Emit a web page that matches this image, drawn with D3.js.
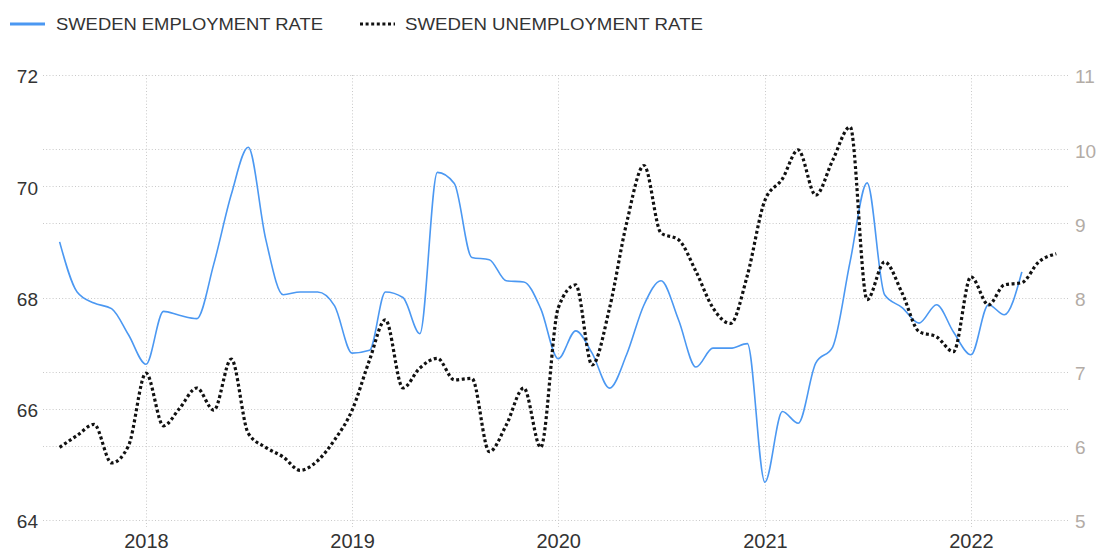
<!DOCTYPE html>
<html><head><meta charset="utf-8">
<script src="https://cdn.jsdelivr.net/npm/d3@7"></script>
<style>body{margin:0;background:#fff;} svg{display:block;font-family:"Liberation Sans",Arial,sans-serif;}</style>
</head><body><svg id="c" width="1106" height="554"></svg>
<script>
// monthly observations, first month = Aug 2017
const firstMonth = [2017, 7];
const employment = [
  69.0, 68.1, 67.9, 67.8, 67.33,
  66.8, 67.75, 67.68, 67.62, 68.6, 69.85, 70.7, 69.05, 68.05, 68.1, 68.1, 67.85,
  67.0, 67.05, 68.1, 68.0, 67.35, 70.25, 70.05, 68.72, 68.68, 68.3, 68.28, 67.8,
  66.9, 67.4, 67.0, 66.37, 66.97, 67.87, 68.3, 67.6, 66.75, 67.09, 67.09, 67.17,
  64.68, 65.95, 65.74, 66.82, 67.11, 68.65, 70.06, 68.05, 67.82, 67.54, 67.87, 67.38,
  66.97, 67.87, 67.69, 68.46
];
const unemployment = [
  5.98, 6.14, 6.29, 5.77, 6.0,
  6.98, 6.27, 6.5, 6.78, 6.48, 7.17, 6.17, 5.98, 5.85, 5.67, 5.8, 6.08,
  6.48, 7.16, 7.7, 6.78, 7.05, 7.18, 6.89, 6.91, 5.92, 6.28, 6.78, 5.98,
  7.86, 8.17, 7.09, 7.86, 9.0, 9.78, 8.87, 8.78, 8.35, 7.86, 7.65, 8.3,
  9.31, 9.6, 9.99, 9.38, 9.85, 10.3, 7.97, 8.48, 8.06, 7.54, 7.47, 7.27,
  8.28, 7.9, 8.17, 8.2, 8.48, 8.59
];
const xTickYears = [2018, 2019, 2020, 2021, 2022];
const leftTicks = [64, 66, 68, 70, 72];
const rightTicks = [5, 6, 7, 8, 9, 10, 11];
const seriesNames = ["SWEDEN EMPLOYMENT RATE", "SWEDEN UNEMPLOYMENT RATE"];

const svg = d3.select("#c");
const plotL = 43, plotR = 1070, plotT = 75, plotB = 520;

const monthDate = i => new Date(Date.UTC(firstMonth[0], firstMonth[1] + i, 1));
const x = d3.scaleUtc()
  .domain([new Date(Date.UTC(2018,0,1)), new Date(Date.UTC(2022,0,1))])
  .range([146, 971]);
const yL = d3.scaleLinear().domain([64, 72]).range([plotB, plotT]);
const yR = d3.scaleLinear().domain([5, 11]).range([plotB, plotT]);

// horizontal grid
const grid = svg.append("g").attr("stroke", "#c9c9c9").attr("stroke-width", 1).attr("stroke-dasharray", "1,2.2");
const gys = new Set([...leftTicks.map(v => Math.round(yL(v)) + 0.5), ...rightTicks.map(v => Math.round(yR(v)) + 0.5)]);
gys.forEach(gy => grid.append("line").attr("x1", plotL).attr("x2", plotR).attr("y1", gy).attr("y2", gy));
// vertical year grid
xTickYears.forEach(yr => {
  const gx = Math.round(x(new Date(Date.UTC(yr,0,1)))) + 0.5;
  grid.append("line").attr("x1", gx).attr("x2", gx).attr("y1", plotT).attr("y2", plotB + 7);
});

// axes labels
const axL = svg.append("g").attr("transform", `translate(38,0)`)
  .call(d3.axisLeft(yL).tickValues(leftTicks).tickFormat(d3.format("d")).tickSize(0).tickPadding(0));
axL.select(".domain").remove();
axL.selectAll("text").attr("font-size", 19).attr("fill", "#333").attr("font-family", "Liberation Sans, Arial, sans-serif").attr("dy", "0.42em");

const axR = svg.append("g").attr("transform", `translate(1075,0)`)
  .call(d3.axisRight(yR).tickValues(rightTicks).tickFormat(d3.format("d")).tickSize(0).tickPadding(0));
axR.select(".domain").remove();
axR.selectAll("text").attr("font-size", 19).attr("fill", "#b3aca6").attr("font-family", "Liberation Sans, Arial, sans-serif").attr("dy", "0.42em");

const axB = svg.append("g").attr("transform", `translate(0,${plotB + 10})`)
  .call(d3.axisBottom(x).tickValues(xTickYears.map(yr => new Date(Date.UTC(yr,0,1)))).tickFormat(d3.utcFormat("%Y")).tickSize(0).tickPadding(0));
axB.select(".domain").remove();
axB.selectAll("text").attr("font-size", 20).attr("fill", "#333").attr("font-family", "Liberation Sans, Arial, sans-serif").attr("dy", "0.88em");

// lines
const lineE = d3.line().x((d,i) => x(monthDate(i))).y(d => yL(d)).curve(d3.curveMonotoneX);
const lineU = d3.line().x((d,i) => x(monthDate(i))).y(d => yR(d)).curve(d3.curveMonotoneX);

svg.append("path").attr("d", lineE(employment)).attr("fill", "none")
  .attr("stroke", "#4b98f2").attr("stroke-width", 1.6);
svg.append("path").attr("d", lineU(unemployment)).attr("fill", "none")
  .attr("stroke", "#111").attr("stroke-width", 3.2).attr("stroke-dasharray", "3,2.6");

// legend
const lg = svg.append("g");
lg.append("line").attr("x1", 10).attr("x2", 45).attr("y1", 24).attr("y2", 24).attr("stroke", "#4b98f2").attr("stroke-width", 3);
lg.append("text").attr("x", 56).attr("y", 30).attr("font-size", 17).attr("fill", "#333")
  .attr("textLength", 267).attr("lengthAdjust", "spacingAndGlyphs").text(seriesNames[0]);
lg.append("line").attr("x1", 360).attr("x2", 395).attr("y1", 24).attr("y2", 24).attr("stroke", "#111").attr("stroke-width", 3.2).attr("stroke-dasharray", "3,2.6");
lg.append("text").attr("x", 405).attr("y", 30).attr("font-size", 17).attr("fill", "#333")
  .attr("textLength", 298).attr("lengthAdjust", "spacingAndGlyphs").text(seriesNames[1]);
</script>
</body></html>
